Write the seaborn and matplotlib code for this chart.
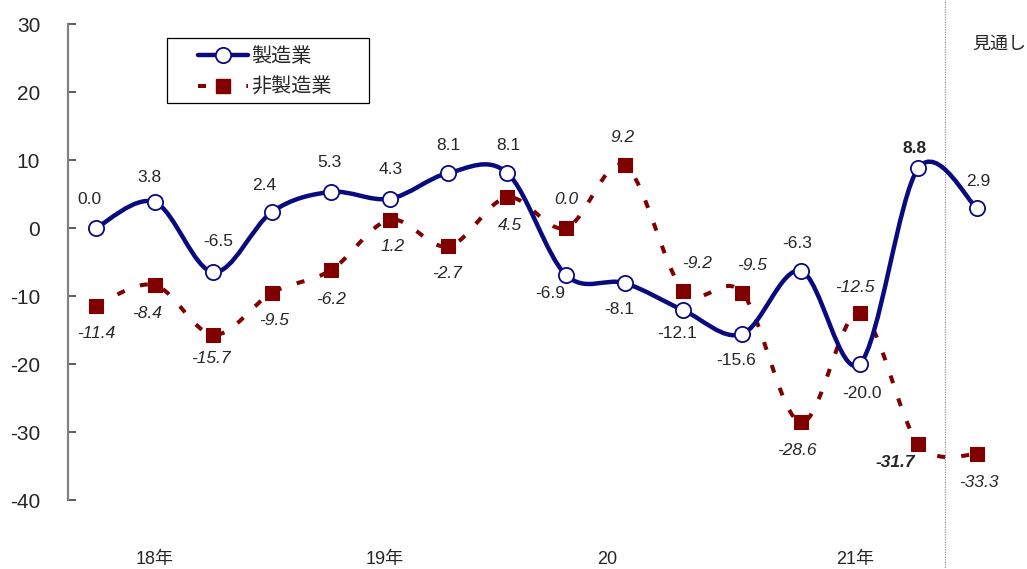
import numpy as np
import matplotlib
matplotlib.use("Agg")
import matplotlib.pyplot as plt
from matplotlib.path import Path
from matplotlib.patches import PathPatch, Rectangle
from matplotlib.lines import Line2D
import seaborn as sns
import pandas as pd

# Data (16 survey points, last one = outlook)
manufacturing = [0.0, 3.8, -6.5, 2.4, 5.3, 4.3, 8.1, 8.1, -6.9, -8.1, -12.1, -15.6, -6.3, -20.0, 8.8, 2.9]
non_manufacturing = [-11.4, -8.4, -15.7, -9.5, -6.2, 1.2, -2.7, 4.5, 0.0, 9.2, -9.2, -9.5, -28.6, -12.5, -31.7, -33.3]
year_labels = ["18年", "19年", "20", "21年"]
year_pos = [1.0, 4.92, 8.70, 12.92]
series_names = ["製造業", "非製造業"]

# label offsets in pixels (dx, dy) for each point
mfg_offsets = [(-7, 29), (-5, 25), (5, 31), (-8, 26), (-2, 29), (1, 29), (0, 27), (1, 27),
               (-16, -19), (-5, -26), (-6, -23), (-6, -26), (-4, 27), (2, -30), (-4, 20), (1, 27)]
non_offsets = [(0, -28), (-8, -28), (-3, -24), (2, -28), (0, -29), (3, -27), (-1, -27), (3, -28),
               (0, 28), (-2, 28), (14, 27), (10, 27), (-4, -28), (-5, 26), (-23, -19), (2, -28)]

NAVY = "#0a0a80"
DRED = "#800000"
DASH = (0, (2.0, 4.0))

sns.set_style("white")
plt.rcParams['font.family'] = ['Liberation Sans', 'Noto Sans CJK JP']
plt.rcParams['axes.unicode_minus'] = False

x = np.arange(len(manufacturing))
df = pd.DataFrame({"x": np.concatenate([x, x]),
                   "y": manufacturing + non_manufacturing,
                   "series": [series_names[0]] * len(x) + [series_names[1]] * len(x)})

W, H = 1027, 569
fig = plt.figure(figsize=(W / 100, H / 100), dpi=100)
ax = fig.add_axes([68 / W, 1 - 500 / H, 1 - 68 / W, (500 - 24) / H])


def smooth_path(xs, ys):
    # Excel-style smoothed line: cubic Bezier through the points
    pts = np.column_stack([xs, ys]).astype(float)
    ext = np.vstack([pts[0], pts, pts[-1]])
    verts = [pts[0]]
    codes = [Path.MOVETO]
    for i in range(len(pts) - 1):
        p0, p1, p2, p3 = ext[i], ext[i + 1], ext[i + 2], ext[i + 3]
        verts += [p1 + (p2 - p0) / 6, p2 - (p3 - p1) / 6, p2]
        codes += [Path.CURVE4] * 3
    return Path(verts, codes)


ax.add_patch(PathPatch(smooth_path(x, non_manufacturing), facecolor="none", edgecolor=DRED,
                       lw=2.9, linestyle=DASH, capstyle="butt", zorder=2))
ax.add_patch(PathPatch(smooth_path(x, manufacturing), facecolor="none", edgecolor=NAVY,
                       lw=3.2, zorder=3, capstyle="round"))

sns.scatterplot(data=df[df.series == series_names[1]], x="x", y="y", marker="s", s=95,
                color=DRED, edgecolor=DRED, ax=ax, zorder=4, legend=False)
sns.scatterplot(data=df[df.series == series_names[0]], x="x", y="y", marker="o", s=120,
                facecolor="white", edgecolor=NAVY, linewidth=1.3, ax=ax, zorder=5, legend=False)

# data labels
for i, (v, off) in enumerate(zip(manufacturing, mfg_offsets)):
    ax.annotate(f"{v:.1f}", (i, v), xytext=off, textcoords="offset pixels",
                ha="center", va="center", fontsize=12.5,
                fontweight="bold" if i == 14 else "normal", zorder=6)
for i, (v, off) in enumerate(zip(non_manufacturing, non_offsets)):
    ax.annotate(f"{v:.1f}", (i, v), xytext=off, textcoords="offset pixels",
                ha="center", va="center", fontsize=12.5, fontstyle="italic",
                fontweight="bold" if i == 14 else "normal", zorder=6)

ax.set_xlim(-0.477, 15.85)
ax.set_ylim(-40, 30)
ax.set_yticks(range(-40, 31, 10))
ax.set_xticks(year_pos)
ax.set_xticklabels(year_labels, fontsize=13)
ax.tick_params(axis="x", length=0, pad=37)
ax.tick_params(axis="y", direction="in", length=6, width=1.2, color="#404040",
               labelsize=15, pad=20, left=True)
ax.set_xlabel("")
ax.set_ylabel("")
for s in ["top", "right", "bottom"]:
    ax.spines[s].set_visible(False)
ax.spines["left"].set_color("#808080")
ax.spines["left"].set_linewidth(1.6)

# outlook separator
ax.axvline(14.45, ymin=-0.3, ymax=1.1, color="#909090", lw=0.9, linestyle=(0, (1, 1)),
           clip_on=False, zorder=1)
fig.text(972 / W, 1 - 44 / H, "見通し", fontsize=13, ha="left", va="center")

# legend: frame drawn separately so the entries can sit inset like the original
fig.patches.append(Rectangle((167 / W, 1 - 103 / H), (369 - 167) / W, (103 - 38) / H,
                             transform=fig.transFigure, facecolor="white",
                             edgecolor="black", lw=0.9, zorder=7))
handles = [Line2D([], [], color=NAVY, lw=3.2, marker="o", markersize=11,
                  markerfacecolor="white", markeredgecolor=NAVY, markeredgewidth=1.3),
           Line2D([], [], color=DRED, lw=2.9, linestyle=DASH, marker="s",
                  markersize=10, markerfacecolor=DRED)]
leg = fig.legend(handles, series_names, loc="upper left",
                 bbox_to_anchor=(198 / W, 1 - 47 / H), bbox_transform=fig.transFigure,
                 borderaxespad=0, borderpad=0, frameon=False, fontsize=14.5,
                 handlelength=2.5, labelspacing=0.6, handletextpad=0.15)
leg.set_zorder(8)
leg.get_texts()[1].set_fontstyle("italic")

fig.savefig("out.png", dpi=100)
